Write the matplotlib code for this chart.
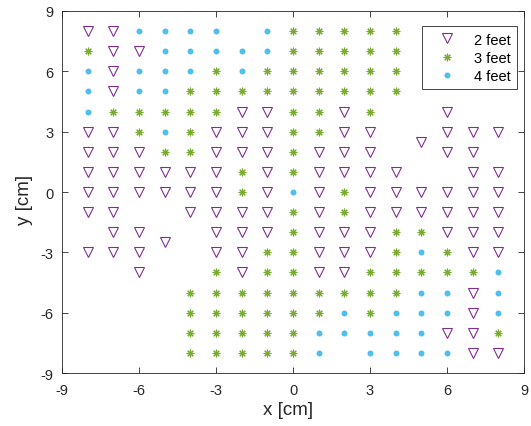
import numpy as np
import matplotlib
matplotlib.use("Agg")
import matplotlib.pyplot as plt

plt.rcParams['font.family'] = ['Liberation Sans', 'DejaVu Sans']
plt.rcParams['axes.unicode_minus'] = False

# rows: y value -> x positions of the points for each distance
feet2_rows = {8: [-8, -7], 7: [-7, -6], 6: [-7], 5: [-7],
              4: [-2, -1, 2, 6],
              3: [-8, -7, -3, -2, -1, 2, 3, 6, 7, 8],
              2.5: [5],
              2: [-8, -7, -6, -3, -2, -1, 1, 2, 3, 6, 7],
              1: [-8, -7, -6, -5, -4, -3, -1, 1, 2, 3, 4, 7, 8],
              0: [-8, -7, -6, -5, -4, -3, -1, 1, 3, 4, 5, 6, 7, 8],
              -1: [-8, -7, -4, -3, -2, -1, 1, 3, 4, 5, 6, 7, 8],
              -2: [-7, -6, -3, -2, -1, 1, 2, 3, 6, 7, 8],
              -2.5: [-5],
              -3: [-8, -7, -6, -3, -2, 1, 2, 3, 7, 8],
              -4: [-6, -2, 1, 2],
              -5: [7], -6: [7], -7: [6, 7], -8: [7, 8]}

feet3_rows = {8: [0, 1, 2, 3, 4],
              7: [-8, 0, 1, 2, 3, 4],
              6: [-3, -1, 0, 1, 2, 3, 4],
              5: [-4, -3, -2, -1, 0, 1, 2, 3, 4],
              4: [-7, -6, -5, -4, -3, 0, 1, 3],
              3: [-6, -4, 0, 1],
              2: [-5, -4, 0],
              1: [-2, 0],
              0: [-2, 2],
              -1: [0, 2],
              -2: [0, 4, 5],
              -3: [-1, 0, 4, 6],
              -4: [-3, -1, 0, 3, 4, 5, 6, 7],
              -5: [-4, -3, -2, -1, 0, 1, 2, 3, 4],
              -6: [-4, -3, -2, -1, 0, 1, 3],
              -7: [-4, -3, -2, -1, 0, 8],
              -8: [-4, -3, -2, -1, 0]}

feet4_rows = {8: [-6, -5, -4, -3, -1],
              7: [-5, -4, -3, -2, -1],
              6: [-8, -6, -5, -4, -2],
              5: [-8, -6, -5],
              4: [-8],
              3: [-5],
              0: [0],
              -3: [5],
              -4: [8],
              -5: [5, 6, 8],
              -6: [2, 4, 5, 6, 8],
              -7: [1, 2, 3, 4, 5],
              -8: [1, 3, 4, 5, 6]}


def flatten(rows):
    xs, ys = [], []
    for yv, xl in rows.items():
        for xv in xl:
            xs.append(xv)
            ys.append(yv)
    return np.array(xs), np.array(ys)


x2, y2 = flatten(feet2_rows)
x3, y3 = flatten(feet3_rows)
x4, y4 = flatten(feet4_rows)

fig = plt.figure(figsize=(5.31, 4.27), dpi=100)
ax = fig.add_axes([0.1168, 0.124, 0.870, 0.848])

ax.plot(x2, y2, linestyle='none', marker='v', markersize=6.5, markerfacecolor='none',
        markeredgecolor='#7E2F8E', markeredgewidth=0.8, label='2 feet')
ax.plot(x3, y3, linestyle='none', marker=(8, 2, 0), markersize=5.5, color='#77AC30',
        markeredgewidth=0.8, label='3 feet')
ax.plot(x4, y4, linestyle='none', marker='o', markersize=4.3, color='#4DBEEE',
        markeredgewidth=0, label='4 feet')

ax.set_xlim(-9, 9)
ax.set_ylim(-9, 9)
ax.set_xticks(np.arange(-9, 10, 3))
ax.set_yticks(np.arange(-9, 10, 3))
ax.tick_params(direction='in', top=True, right=True, labelsize=10.5, length=4,
               width=0.6, colors='#262626')
ax.tick_params(axis='x', pad=7.5)
ax.tick_params(axis='y', pad=6)
for s in ax.spines.values():
    s.set_linewidth(0.6)
    s.set_color('#262626')
ax.set_xlabel('x [cm]', fontsize=13.5, color='#262626')
ax.set_ylabel('y [cm]', fontsize=13.5, color='#262626')
ax.xaxis.set_label_coords(0.489, -0.077)
ax.yaxis.set_label_coords(-0.063, 0.481)

leg = ax.legend(loc='upper right', bbox_to_anchor=(517 / 531, 1 - 27 / 427),
                bbox_transform=fig.transFigure, borderaxespad=0,
                fontsize=10.5, fancybox=False, framealpha=1,
                edgecolor='#262626', borderpad=0.45, handlelength=2.6,
                handletextpad=0.5, labelspacing=0.28)
leg.get_frame().set_linewidth(0.6)

fig.savefig('out.png', dpi=100)
